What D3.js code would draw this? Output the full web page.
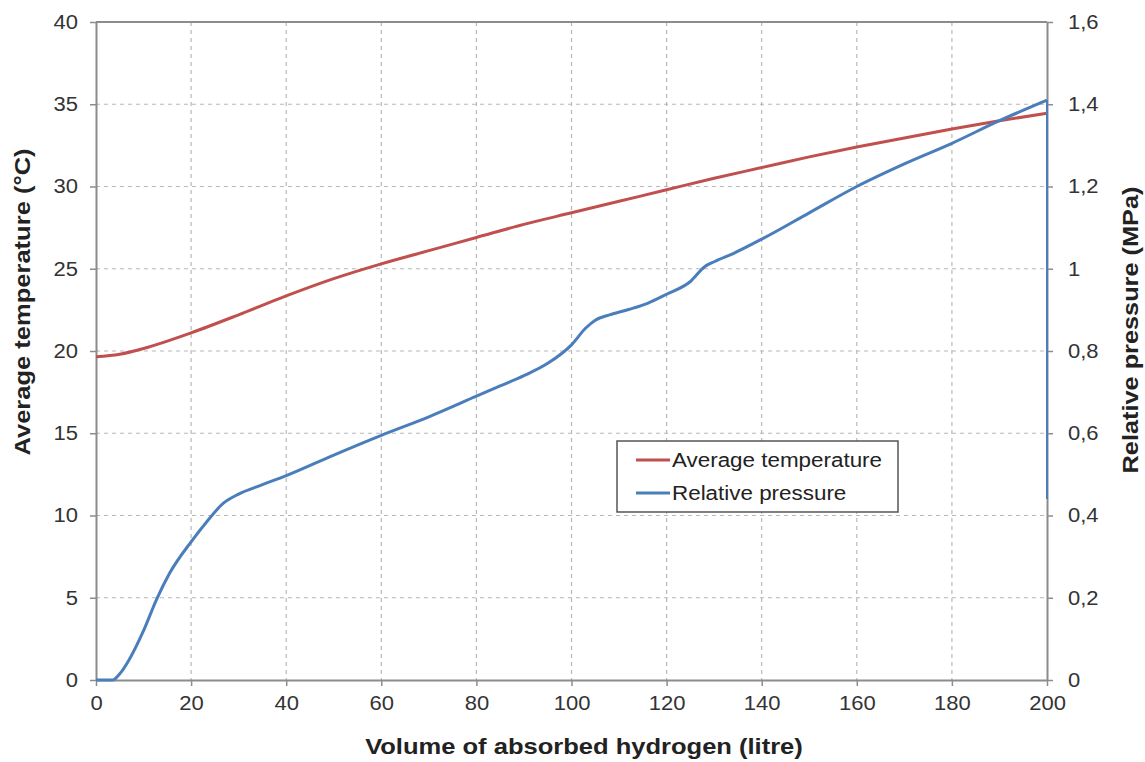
<!DOCTYPE html>
<html>
<head>
<meta charset="utf-8">
<script src="https://cdn.jsdelivr.net/npm/d3@7"></script>
<style>
  html, body { margin: 0; padding: 0; background: #fff; }
  svg { display: block; font-family: "Liberation Sans", Arial, sans-serif; }
</style>
</head>
<body>
<svg id="chart" width="1145" height="762"></svg>
<script>
// Volume of absorbed hydrogen (litre) vs. average temperature (°C)
const tempVolume = [0, 5, 10, 15, 20, 30, 40, 50, 60, 70, 80, 90, 100, 110, 120, 130, 140, 150, 160, 170, 180, 190, 200];
const tempValues = [19.65, 19.8, 20.15, 20.6, 21.1, 22.2, 23.35, 24.4, 25.3, 26.1, 26.9, 27.7, 28.4, 29.1, 29.8, 30.5, 31.15, 31.8, 32.4, 32.95, 33.5, 34.0, 34.45];

// Volume of absorbed hydrogen (litre) vs. relative pressure (MPa)
const presVolume = [0, 3.5, 5, 7, 10, 12.7, 15.5, 20, 23.3, 26.8, 30, 35, 40, 50, 60, 70, 80, 85, 90, 95, 100, 103, 105, 108, 112, 116, 120, 125, 128, 130, 134, 140, 150, 160, 170, 180, 190, 200];
const presValues = [0, 0, 0.015, 0.05, 0.12, 0.195, 0.26, 0.336, 0.385, 0.43, 0.452, 0.475, 0.497, 0.547, 0.595, 0.64, 0.69, 0.715, 0.74, 0.77, 0.815, 0.856, 0.875, 0.888, 0.901, 0.916, 0.938, 0.969, 1.005, 1.017, 1.037, 1.072, 1.136, 1.2, 1.255, 1.305, 1.36, 1.41];
// pressure reading right after the last fill step (release)
const presFinal = 0.44;

const xTicks = [0, 20, 40, 60, 80, 100, 120, 140, 160, 180, 200];
const yLeftTicks = [0, 5, 10, 15, 20, 25, 30, 35, 40];
const yRightTicks = [0, 0.2, 0.4, 0.6, 0.8, 1, 1.2, 1.4, 1.6];
const yRightLabels = ["0", "0,2", "0,4", "0,6", "0,8", "1", "1,2", "1,4", "1,6"];

const seriesNames = ["Average temperature", "Relative pressure"];
const seriesColors = ["#c0504d", "#4a7ebb"];

const svg = d3.select("#chart");
const m = { left: 96, right: 1047, top: 22, bottom: 680 };

const x = d3.scaleLinear().domain([0, 200]).range([m.left, m.right]);
const yL = d3.scaleLinear().domain([0, 40]).range([m.bottom, m.top]);
const yR = d3.scaleLinear().domain([0, 1.6]).range([m.bottom, m.top]);

const gridColor = "#b8b8b8";
const axisColor = "#8c8c8c";
const textColor = "#333";

// widen text a little (wide-set typeface)
function widen(sel, k) {
  sel.each(function () {
    const L = this.getComputedTextLength();
    d3.select(this).attr("textLength", L * k).attr("lengthAdjust", "spacingAndGlyphs");
  });
}

// dashed grid
const grid = svg.append("g");
grid.selectAll("line.v").data(xTicks.slice(1, -1)).join("line")
  .attr("x1", d => x(d)).attr("x2", d => x(d))
  .attr("y1", m.top).attr("y2", m.bottom)
  .attr("stroke", gridColor).attr("stroke-width", 1.2).attr("stroke-dasharray", "4,4");
grid.selectAll("line.h").data(yLeftTicks.slice(1, -1)).join("line")
  .attr("x1", m.left).attr("x2", m.right)
  .attr("y1", d => yL(d)).attr("y2", d => yL(d))
  .attr("stroke", gridColor).attr("stroke-width", 1.2).attr("stroke-dasharray", "4,4");

// axes
const axBottom = svg.append("g").attr("transform", `translate(0,${m.bottom})`)
  .call(d3.axisBottom(x).tickValues(xTicks).tickSize(6).tickPadding(7).tickSizeOuter(0));
const axLeft = svg.append("g").attr("transform", `translate(${m.left},0)`)
  .call(d3.axisLeft(yL).tickValues(yLeftTicks).tickSize(6).tickPadding(12).tickSizeOuter(0));
const axRight = svg.append("g").attr("transform", `translate(${m.right},0)`)
  .call(d3.axisRight(yR).tickValues(yRightTicks).tickFormat((d, i) => yRightLabels[i])
    .tickSize(6).tickPadding(15).tickSizeOuter(0));

[axBottom, axLeft, axRight].forEach(g => {
  g.select(".domain").attr("stroke", axisColor).attr("stroke-width", 2);
  g.selectAll(".tick line").attr("stroke", axisColor).attr("stroke-width", 1.5);
  g.selectAll(".tick text").attr("fill", textColor).attr("font-size", 20)
    .attr("font-family", "\"Liberation Sans\", Arial, sans-serif");
  widen(g.selectAll(".tick text"), 1.1);
});
axBottom.selectAll(".tick text").attr("dy", "0.85em");

// top border
svg.append("line").attr("x1", m.left).attr("x2", m.right)
  .attr("y1", m.top).attr("y2", m.top)
  .attr("stroke", axisColor).attr("stroke-width", 2);

// series
const tempData = tempVolume.map((v, i) => [v, tempValues[i]]);
const presData = presVolume.map((v, i) => [v, presValues[i]]);

const tempLine = d3.line().x(d => x(d[0])).y(d => yL(d[1])).curve(d3.curveMonotoneX);
const presLine = d3.line().x(d => x(d[0])).y(d => yR(d[1])).curve(d3.curveMonotoneX);

svg.append("path").datum(tempData).attr("d", tempLine)
  .attr("fill", "none").attr("stroke", seriesColors[0]).attr("stroke-width", 3);
svg.append("path").datum(presData).attr("d", presLine)
  .attr("fill", "none").attr("stroke", seriesColors[1]).attr("stroke-width", 3);

// pressure release at the end of the fill
const last = presData[presData.length - 1];
svg.append("line")
  .attr("x1", x(last[0])).attr("x2", x(last[0]))
  .attr("y1", yR(last[1])).attr("y2", yR(presFinal))
  .attr("stroke", seriesColors[1]).attr("stroke-width", 2);

// axis titles
const titleLeft = svg.append("text")
  .attr("transform", "translate(30,302) rotate(-90)")
  .attr("text-anchor", "middle").attr("font-size", 22).attr("font-weight", "bold")
  .attr("fill", "#222").text("Average temperature (°C)");
const titleRight = svg.append("text")
  .attr("transform", "translate(1138,330) rotate(-90)")
  .attr("text-anchor", "middle").attr("font-size", 22).attr("font-weight", "bold")
  .attr("fill", "#222").text("Relative pressure (MPa)");
const titleBottom = svg.append("text")
  .attr("x", 584).attr("y", 754)
  .attr("text-anchor", "middle").attr("font-size", 22).attr("font-weight", "bold")
  .attr("fill", "#222").text("Volume of absorbed hydrogen (litre)");
widen(titleLeft, 1.16);
widen(titleRight, 1.15);
widen(titleBottom, 1.16);

// legend
const legend = svg.append("g").attr("transform", "translate(617,441)");
legend.append("rect").attr("width", 281).attr("height", 71)
  .attr("fill", "#fff").attr("stroke", "#555").attr("stroke-width", 1.5);
seriesNames.forEach((name, i) => {
  const yy = 19 + i * 33;
  legend.append("line").attr("x1", 19).attr("x2", 53).attr("y1", yy).attr("y2", yy)
    .attr("stroke", seriesColors[i]).attr("stroke-width", 3);
  const t = legend.append("text").attr("x", 55).attr("y", yy).attr("dy", "0.35em")
    .attr("font-size", 20).attr("fill", "#222").text(name);
  widen(t, 1.12);
});
</script>
</body>
</html>
